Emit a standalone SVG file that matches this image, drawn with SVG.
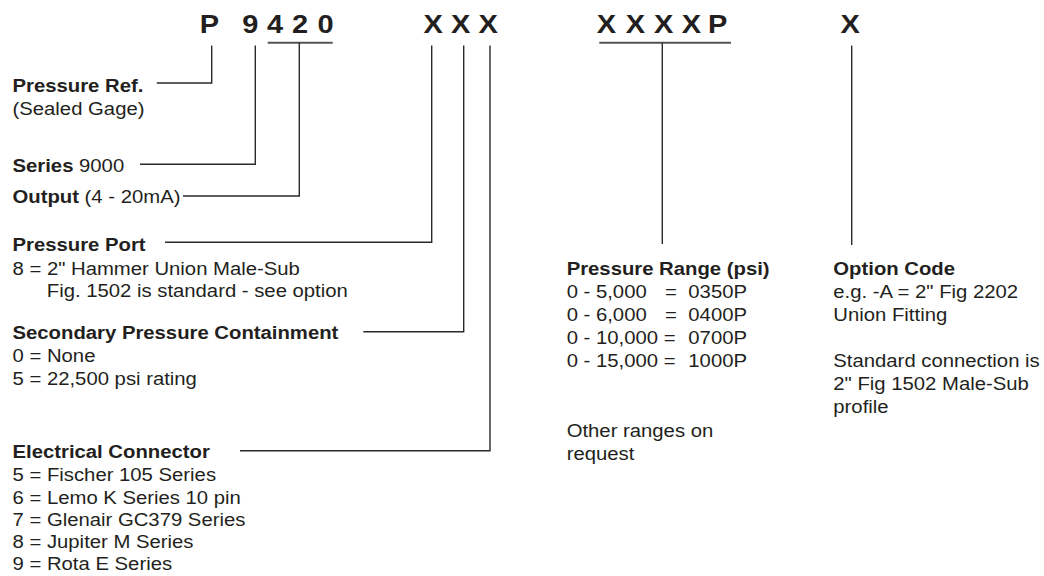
<svg xmlns="http://www.w3.org/2000/svg" width="1044" height="576" viewBox="0 0 1044 576">
<style>
text{font-family:"Liberation Sans",Arial,Helvetica,sans-serif;fill:#231f20}
.h{font-size:25px;font-weight:bold;text-anchor:middle}
.t{font-size:17.5px}
.b{font-weight:bold}
.c{fill:none;stroke:#2a2a2a;stroke-width:1.4}
.u{fill:none;stroke:#555;stroke-width:2}
</style>
<rect width="1044" height="576" fill="#fff"/>
<g id="connectors">
<path class="c" d="M156.7 83H211.7V45.5"/>
<path class="c" d="M140 164.3H255.3V45.5"/>
<path class="u" d="M267.7 42.7H332.7"/>
<path class="c" d="M299.3 42.7V196H183"/>
<path class="c" d="M165 242.3H431.7V45.5"/>
<path class="c" d="M363.3 331.7H463.7V45.5"/>
<path class="c" d="M240 450.7H490V45.5"/>
<path class="u" d="M599.3 42.7H731"/>
<path class="c" d="M662.3 42.7V244"/>
<path class="c" d="M851.7 45.5V245"/>
</g>
<g transform="scale(1.16 1)">
<g id="code">
<text class="h" x="180.5" y="33.5">P</text>
<text class="h" x="215.9" y="33.5">9</text>
<text class="h" x="237.1" y="33.5">4</text>
<text class="h" x="258.6" y="33.5">2</text>
<text class="h" x="280.6" y="33.5">0</text>
<text class="h" x="373.5" y="33.5">X</text>
<text class="h" x="397.2" y="33.5">X</text>
<text class="h" x="420.9" y="33.5">X</text>
<text class="h" x="522.7" y="33.5">X</text>
<text class="h" x="547.7" y="33.5">X</text>
<text class="h" x="572.2" y="33.5">X</text>
<text class="h" x="596.0" y="33.5">X</text>
<text class="h" x="618.8" y="33.5">P</text>
<text class="h" x="732.9" y="33.5">X</text>
</g>
<g id="pressure-ref">
<text class="t b" x="10.8" y="92.5">Pressure Ref.</text>
<text class="t" x="10.8" y="115">(Sealed Gage)</text>
</g>
<g id="series">
<text class="t" x="10.8" y="171.7"><tspan class="b">Series</tspan> 9000</text>
</g>
<g id="output">
<text class="t" x="10.8" y="203.3"><tspan class="b">Output</tspan> (4 - 20mA)</text>
</g>
<g id="pressure-port">
<text class="t b" x="10.8" y="250.7">Pressure Port</text>
<text class="t" x="10.8" y="275">8 = 2" Hammer Union Male-Sub</text>
<text class="t" x="40.3" y="297.3">Fig. 1502 is standard - see option</text>
</g>
<g id="secondary-containment">
<text class="t b" x="10.8" y="339.3">Secondary Pressure Containment</text>
<text class="t" x="10.8" y="361.7">0 = None</text>
<text class="t" x="10.8" y="385">5 = 22,500 psi rating</text>
</g>
<g id="electrical-connector">
<text class="t b" x="10.8" y="458.3">Electrical Connector</text>
<text class="t" x="10.8" y="481.3">5 = Fischer 105 Series</text>
<text class="t" x="10.8" y="503.6">6 = Lemo K Series 10 pin</text>
<text class="t" x="10.8" y="526">7 = Glenair GC379 Series</text>
<text class="t" x="10.8" y="548.3">8 = Jupiter M Series</text>
<text class="t" x="10.8" y="570.3">9 = Rota E Series</text>
</g>
<g id="pressure-range">
<text class="t b" x="488.5" y="275">Pressure Range (psi)</text>
<text class="t" x="488.5" y="298.3">0 - 5,000</text>
<text class="t" x="573.3" y="298.3">=</text>
<text class="t" x="593.4" y="298.3">0350P</text>
<text class="t" x="488.5" y="321.5">0 - 6,000</text>
<text class="t" x="573.3" y="321.5">=</text>
<text class="t" x="593.4" y="321.5">0400P</text>
<text class="t" x="488.5" y="344.5">0 - 10,000 =</text>
<text class="t" x="593.4" y="344.5">0700P</text>
<text class="t" x="488.5" y="367.3">0 - 15,000 =</text>
<text class="t" x="593.4" y="367.3">1000P</text>
<text class="t" x="488.5" y="437.3">Other ranges on</text>
<text class="t" x="488.5" y="460">request</text>
</g>
<g id="option-code">
<text class="t b" x="718.4" y="275">Option Code</text>
<text class="t" x="718.4" y="298.3">e.g. -A = 2" Fig 2202</text>
<text class="t" x="718.4" y="321.5">Union Fitting</text>
<text class="t" x="718.4" y="367.3">Standard connection is</text>
<text class="t" x="718.4" y="390">2" Fig 1502 Male-Sub</text>
<text class="t" x="718.4" y="412.7">profile</text>
</g>
</g>
</svg>
